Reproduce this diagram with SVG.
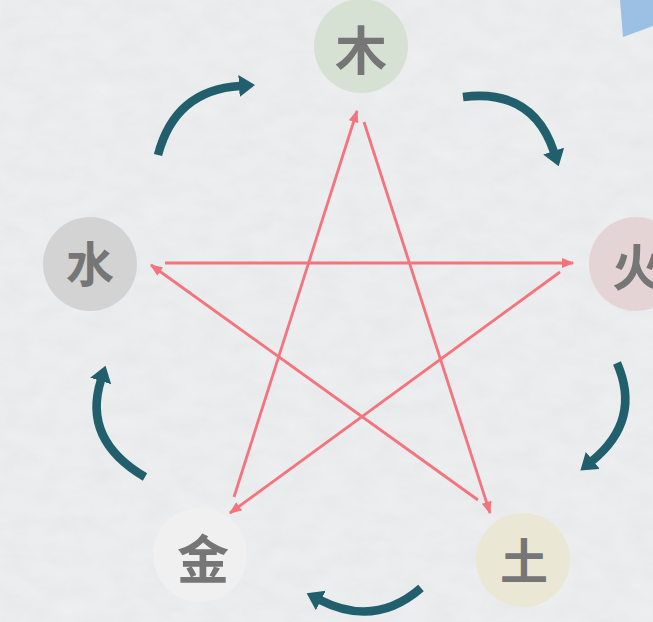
<svg xmlns="http://www.w3.org/2000/svg" width="653" height="622" viewBox="0 0 653 622">
<defs>
<style>
.node circle{stroke:none}
.node text{font-family:"Noto Sans CJK SC","Noto Sans CJK JP",sans-serif;font-weight:700;fill:#767676;text-anchor:middle;dominant-baseline:central}
.cycle{fill:none;stroke:#215f6c;stroke-width:8.5;stroke-linecap:butt;marker-end:url(#tealHead)}
.ke{fill:none;stroke:#f4747d;stroke-width:2.8;marker-end:url(#redHead)}
</style>
<marker id="tealHead" viewBox="0 0 16 22" refX="1" refY="11" markerWidth="16" markerHeight="22" markerUnits="userSpaceOnUse" orient="auto">
<path d="M0,0 L16,11 L0,22 z" fill="#215f6c"/>
</marker>
<marker id="redHead" viewBox="0 0 10 8" refX="9" refY="4" markerWidth="13" markerHeight="10" markerUnits="userSpaceOnUse" orient="auto">
<path d="M0,0 L10,4 L0,8 z" fill="#f4747d"/>
</marker>
<filter id="paper" x="0" y="0" width="100%" height="100%">
<feTurbulence type="fractalNoise" baseFrequency="0.035 0.06" numOctaves="4" seed="3" result="n"/>
<feColorMatrix in="n" type="matrix" values="0 0 0 0 0.5  0 0 0 0 0.5  0 0 0 0 0.5  0 0 0 0.16 0" result="g"/>
<feBlend in="SourceGraphic" in2="g" mode="multiply"/>
</filter>
</defs>
<rect x="0" y="0" width="653" height="622" fill="#eef0f1" filter="url(#paper)"/>
<polygon points="620,0 653,0 653,26 623,37" fill="#9cc0e4"/>

<g id="connectors">
<path class="cycle" d="M158,155 Q175,90 240,86"/>
<path class="cycle" d="M463,97 Q533,88 554,152"/>
<path class="cycle" d="M617,363 Q642,420 592,461"/>
<path class="cycle" d="M421,588 Q375,628 320,600"/>
<path class="cycle" d="M145,477 Q82,440 101,380"/>
<line class="ke" x1="234" y1="497" x2="357" y2="111"/>
<line class="ke" x1="364" y1="122" x2="490" y2="513"/>
<line class="ke" x1="478" y1="500" x2="151" y2="265"/>
<line class="ke" x1="165" y1="263" x2="573" y2="263"/>
<line class="ke" x1="560" y1="272" x2="230" y2="513"/>
</g>

<g id="node-mu" class="node">
<circle cx="361" cy="46" r="47" fill="#d6e1d4"/>
<text x="361" y="47" font-size="52">木</text>
</g>
<g id="node-huo" class="node">
<circle cx="636" cy="264" r="47" fill="#e5d4d6"/>
<text x="637" y="264" font-size="50">火</text>
</g>
<g id="node-tu" class="node">
<circle cx="523" cy="560" r="47" fill="#eae8d4"/>
<text x="524" y="558" font-size="48">土</text>
</g>
<g id="node-jin" class="node">
<circle cx="200" cy="555" r="47" fill="#f0f0f1"/>
<text x="203" y="556" font-size="52">金</text>
</g>
<g id="node-shui" class="node">
<circle cx="90" cy="264" r="47" fill="#d3d3d4"/>
<text x="90" y="261" font-size="48">水</text>
</g>
</svg>
